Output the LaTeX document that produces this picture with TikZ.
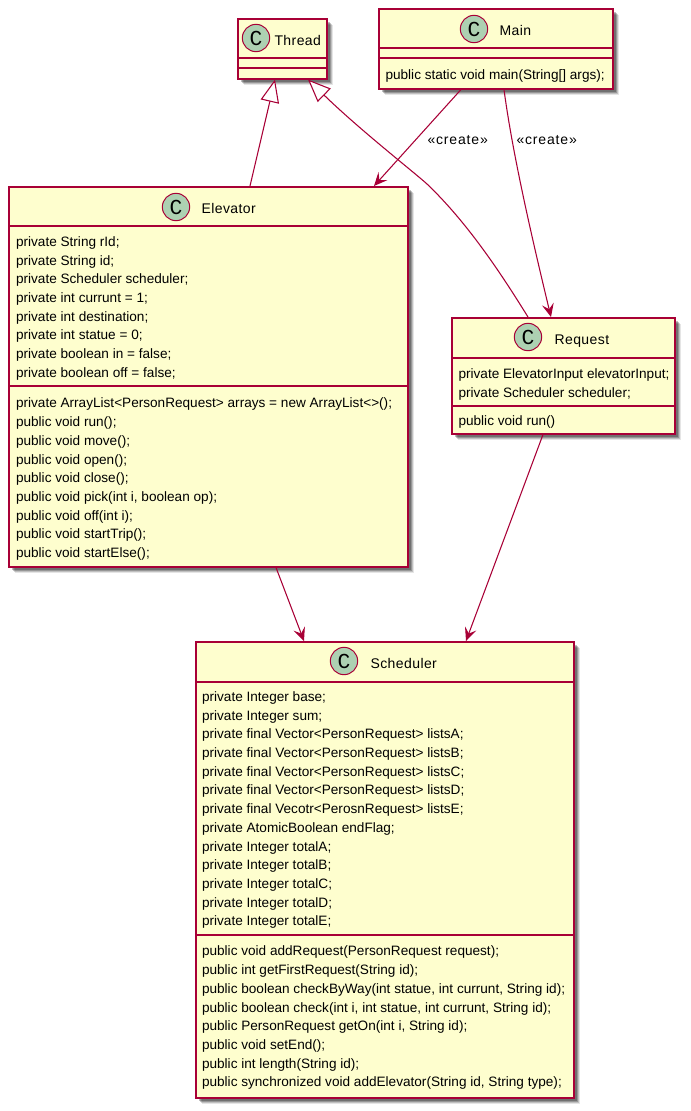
\documentclass[tikz,border=0pt]{standalone}
\usepackage{fontspec}
\setmainfont{Liberation Sans}
\newfontfamily\titlefont[LetterSpace=3]{Liberation Sans}
\newfontfamily\stereofont[LetterSpace=6]{Liberation Sans}
\newfontfamily\spotfont{Liberation Mono}
\usetikzlibrary{arrows.meta,calc,shadows}
\definecolor{umlfill}{HTML}{FEFECE}
\definecolor{umlline}{HTML}{A80036}
\definecolor{umlspot}{HTML}{ADD1B2}

\begin{document}
\begin{tikzpicture}[x=0.75pt,y=-0.75pt,line width=0.8pt,
  softshadow/.style={
    drop shadow={shadow xshift=4.6pt,shadow yshift=-4.6pt,fill=black,opacity=0.1},
    drop shadow={shadow xshift=3.8pt,shadow yshift=-3.8pt,fill=black,opacity=0.16},
    drop shadow={shadow xshift=3pt,shadow yshift=-3pt,fill=black,opacity=0.22},
    drop shadow={shadow xshift=2.2pt,shadow yshift=-2.2pt,fill=black,opacity=0.25}},
  classbox/.style={draw=umlline,fill=umlfill,line width=1.15pt,rectangle,anchor=north west,inner sep=0pt,softshadow},
  spot/.style={circle,draw=umlline,fill=umlspot,line width=0.75pt,minimum size=20.5pt,inner sep=0pt,font=\spotfont\fontsize{16}{17}\selectfont},
  title/.style={anchor=base west,inner sep=0pt,font=\titlefont\fontsize{10.5}{12}\selectfont},
  members/.style={anchor=north west,inner sep=0pt,align=left,font=\fontsize{10.2}{14.03}\selectfont},
  divider/.style={umlline,line width=1.15pt},
  dep/.style={umlline,-{Stealth[length=10pt,width=9pt,inset=4pt]}},
  ext/.style={umlline,-{Triangle[length=17pt,width=14pt,fill=white,line width=0.8pt]}},
  stereo/.style={anchor=base west,inner sep=0pt,font=\stereofont\fontsize{10.5}{12}\selectfont}]
\useasboundingbox (0,0) rectangle (690,1111);
% ---------- Thread ----------
\node[classbox,minimum width=67pt,minimum height=45pt] (thread) at (237,18) {};
\node[spot] (threadspot) at (256,38) {C};
\node[title] (threadtitle) at (274,45) {Thread};
\draw[divider] ($(thread.north west)+(0,40)$) -- ($(thread.north east)+(0,40)$);
\draw[divider] ($(thread.north west)+(0,50)$) -- ($(thread.north east)+(0,50)$);
% ---------- Main ----------
\node[classbox,minimum width=175.5pt,minimum height=60pt] (main) at (378,8) {};
\node[spot] (mainspot) at (474,29) {C};
\node[title] (maintitle) at (499,35) {Main};
\draw[divider] ($(main.north west)+(0,40)$) -- ($(main.north east)+(0,40)$);
\draw[divider] ($(main.north west)+(0,50)$) -- ($(main.north east)+(0,50)$);
\node[members] (mainmethods) at (385,69) {public static void main(String[] args);};
% ---------- Elevator ----------
\node[classbox,minimum width=299.25pt,minimum height=285pt] (elevator) at (8,186) {};
\node[spot] (elevatorspot) at (176,207) {C};
\node[title] (elevatortitle) at (201,213) {Elevator};
\draw[divider] ($(elevator.north west)+(0,40)$) -- ($(elevator.north east)+(0,40)$);
\draw[divider] ($(elevator.north west)+(0,200)$) -- ($(elevator.north east)+(0,200)$);
\node[members] (elevatorfields) at (15.5,236) {private String rId;\\
  private String id;\\
  private Scheduler scheduler;\\
  private int currunt = 1;\\
  private int destination;\\
  private int statue = 0;\\
  private boolean in = false;\\
  private boolean off = false;};
\node[members] (elevatormethods) at (15.5,397.5) {private ArrayList<PersonRequest> arrays = new ArrayList<>();\\
  public void run();\\
  public void move();\\
  public void open();\\
  public void close();\\
  public void pick(int i, boolean op);\\
  public void off(int i);\\
  public void startTrip();\\
  public void startElse();};
% ---------- Request ----------
\node[classbox,minimum width=167.25pt,minimum height=87pt] (request) at (451,317) {};
\node[spot] (requestspot) at (528,337) {C};
\node[title] (requesttitle) at (554,344) {Request};
\draw[divider] ($(request.north west)+(0,41)$) -- ($(request.north east)+(0,41)$);
\draw[divider] ($(request.north west)+(0,89)$) -- ($(request.north east)+(0,89)$);
\node[members] (requestfields) at (458,368) {private ElevatorInput elevatorInput;\\
  private Scheduler scheduler;};
\node[members] (requestmethods) at (458,415) {public void run()};
% ---------- Scheduler ----------
\node[classbox,minimum width=283.5pt,minimum height=342pt] (scheduler) at (195,641) {};
\node[spot] (schedulerspot) at (344,661) {C};
\node[title] (schedulertitle) at (370,668) {Scheduler};
\draw[divider] ($(scheduler.north west)+(0,41)$) -- ($(scheduler.north east)+(0,41)$);
\draw[divider] ($(scheduler.north west)+(0,294)$) -- ($(scheduler.north east)+(0,294)$);
\node[members] (schedulerfields) at (201.5,691) {private Integer base;\\
  private Integer sum;\\
  private final Vector<PersonRequest> listsA;\\
  private final Vector<PersonRequest> listsB;\\
  private final Vector<PersonRequest> listsC;\\
  private final Vector<PersonRequest> listsD;\\
  private final Vecotr<PerosnRequest> listsE;\\
  private AtomicBoolean endFlag;\\
  private Integer totalA;\\
  private Integer totalB;\\
  private Integer totalC;\\
  private Integer totalD;\\
  private Integer totalE;};
\node[members] (schedulermethods) at (201.5,945.5) {public void addRequest(PersonRequest request);\\
  public int getFirstRequest(String id);\\
  public boolean checkByWay(int statue, int currunt, String id);\\
  public boolean check(int i, int statue, int currunt, String id);\\
  public PersonRequest getOn(int i, String id);\\
  public void setEnd();\\
  public int length(String id);\\
  public synchronized void addElevator(String id, String type);};
% ---------- relations ----------
\draw[ext] ($(elevator.north west)+(242,0)$) -- ($(thread.south west)+(38,0)$);
\draw[ext] ($(request.north west)+(77,0)$) .. controls (505,280) and (470,225) .. (427,184)
  .. controls (415,173) and (360,130) .. ($(thread.south west)+(71,0)$);
\draw[dep] ($(main.south west)+(83,0)$) -- ($(elevator.north west)+(366,0)$);
\draw[dep] ($(main.south west)+(126,0)$) .. controls (512,150) and (530,230) .. ($(request.north west)+(100,0)$);
\draw[dep] ($(elevator.south west)+(268,0)$) -- ($(scheduler.north west)+(109,0)$);
\draw[dep] ($(request.south west)+(92,0)$) -- ($(scheduler.north west)+(271,0)$);
\node[stereo] (createelevator) at (427,144) {«create»};
\node[stereo] (createrequest) at (516,144) {«create»};
\end{tikzpicture}
\end{document}
